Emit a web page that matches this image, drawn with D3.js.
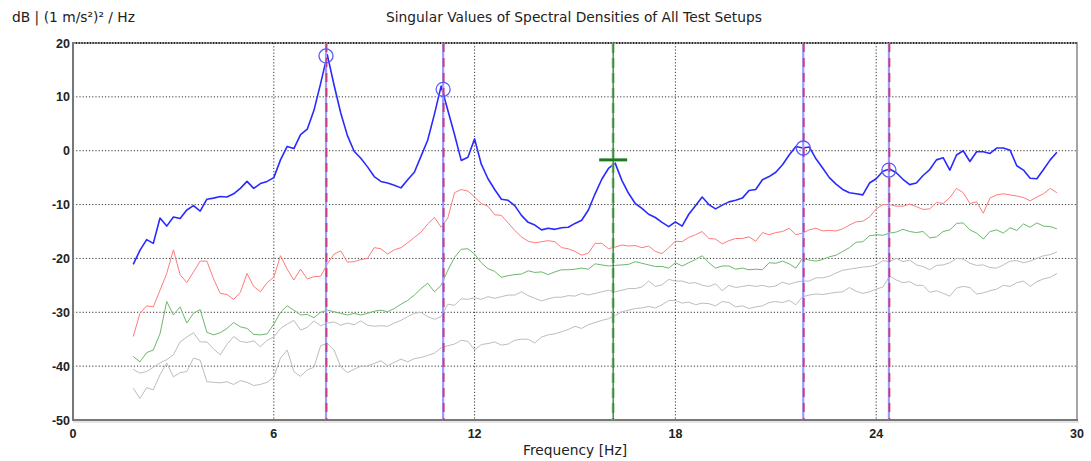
<!DOCTYPE html>
<html>
<head>
<meta charset="utf-8">
<script src="https://cdn.jsdelivr.net/npm/d3@7"></script>
<style>
  body { margin: 0; background: #fff; }
  text { font-family: "DejaVu Sans", Verdana, sans-serif; fill: #222; }
</style>
</head>
<body>
<script>
// frequency bins (Hz): 1.8 .. 29.4 in 0.2 Hz steps
const fStart = 1.8, fStep = 0.2;

// singular values, dB, one row per 2 Hz
const sv1 = [
  -21.1,-18.5,-16.5,-17.2,-12.5,-14.0,-12.3,-12.6,-11.0,-10.2,
  -11.2,-9.0,-8.8,-8.5,-8.6,-8.0,-7.0,-5.7,-7.0,-6.1,
  -5.7,-5.0,-1.7,0.8,0.4,3.0,4.0,7.5,12.5,17.8,
  12.2,7.0,2.8,-0.1,-1.4,-3.0,-4.8,-5.7,-6.0,-6.4,
  -6.9,-5.4,-4.0,-1.0,2.0,6.8,12.0,7.5,3.0,-1.8,
  -1.2,2.2,-2.5,-5.2,-7.2,-9.0,-9.2,-10.2,-12.0,-13.3,
  -13.8,-14.7,-14.4,-14.6,-14.3,-14.2,-13.5,-12.9,-11.0,-8.0,
  -5.3,-3.3,-2.3,-5.5,-7.9,-9.8,-10.7,-11.8,-12.4,-13.3,
  -14.1,-13.2,-14.0,-11.8,-10.2,-8.6,-10.0,-10.8,-10.1,-9.5,
  -9.2,-8.8,-7.4,-7.2,-5.4,-4.8,-4.0,-2.6,-0.8,0.8,
  0.5,0.7,-1.5,-3.2,-5.0,-6.2,-7.2,-7.8,-8.0,-8.2,
  -6.0,-5.2,-3.8,-3.4,-4.1,-5.3,-6.3,-6.0,-4.6,-3.5,
  -1.7,-1.3,-3.6,-0.8,0.0,-2.0,-0.2,-0.2,-0.5,0.5,
  0.5,0.1,-2.8,-3.6,-5.1,-5.2,-3.5,-1.7,-0.3
];
const sv2 = [
  -34.5,-30.2,-28.8,-29.0,-25.9,-22.8,-18.4,-23.0,-24.5,-22.5,
  -20.5,-20.5,-23.8,-26.5,-26.7,-27.6,-26.3,-22.8,-25.2,-26.2,
  -24.5,-23.5,-19.5,-22.0,-24.0,-22.0,-23.8,-23.4,-23.3,-21.0,
  -19.2,-18.6,-20.7,-20.6,-20.2,-20.0,-18.0,-18.2,-19.2,-18.4,
  -18.0,-17.1,-16.1,-15.1,-13.6,-12.4,-14.2,-12.5,-7.8,-7.2,
  -7.5,-8.6,-9.8,-10.3,-11.9,-12.0,-13.4,-14.8,-16.0,-16.8,
  -17.1,-16.9,-16.7,-16.9,-18.0,-18.2,-18.7,-19.4,-19.0,-17.2,
  -17.2,-18.2,-17.9,-17.5,-17.7,-17.6,-18.0,-17.7,-18.7,-19.1,
  -18.0,-16.8,-16.9,-16.1,-15.6,-15.0,-16.3,-16.4,-17.3,-16.7,
  -16.3,-16.3,-16.0,-16.8,-15.2,-15.6,-15.2,-15.0,-14.4,-15.6,
  -15.3,-14.7,-14.4,-14.9,-14.8,-14.9,-14.5,-13.8,-13.2,-13.1,
  -12.3,-10.8,-10.0,-10.0,-10.3,-10.3,-9.9,-10.4,-10.9,-10.8,
  -9.6,-9.8,-8.7,-7.0,-7.8,-9.8,-9.5,-11.6,-8.8,-8.2,
  -8.0,-8.2,-8.4,-8.7,-9.3,-8.6,-8.0,-7.0,-7.8
];
const sv3 = [
  -38.2,-39.2,-37.5,-37.0,-34.0,-28.0,-30.5,-29.0,-32.0,-30.2,
  -29.5,-33.7,-34.2,-33.8,-33.0,-31.9,-32.7,-33.0,-34.1,-34.2,
  -34.0,-32.2,-30.0,-28.8,-29.6,-30.5,-30.4,-31.0,-30.0,-29.6,
  -29.9,-30.2,-30.5,-30.2,-30.5,-30.2,-29.8,-29.6,-29.9,-29.3,
  -28.5,-27.8,-26.8,-25.6,-24.6,-26.2,-25.0,-22.2,-19.8,-18.3,
  -18.2,-19.2,-20.8,-21.9,-22.4,-23.5,-23.2,-23.0,-22.9,-22.3,
  -22.6,-22.5,-23.0,-22.5,-22.1,-22.1,-22.0,-21.8,-22.0,-21.0,
  -21.2,-21.4,-21.3,-21.2,-21.1,-20.6,-20.9,-21.2,-21.5,-21.5,
  -21.8,-20.8,-21.4,-20.8,-20.2,-19.5,-20.8,-21.8,-21.4,-21.4,
  -22.0,-21.8,-22.1,-22.0,-22.1,-20.8,-20.9,-20.5,-21.0,-21.8,
  -20.0,-20.3,-20.5,-20.2,-19.7,-19.4,-18.7,-18.0,-17.0,-16.9,
  -15.8,-15.6,-15.7,-15.3,-15.1,-14.6,-15.0,-15.2,-15.0,-16.2,
  -16.0,-15.0,-14.7,-13.5,-13.4,-14.7,-15.3,-16.4,-15.0,-14.7,
  -15.3,-14.3,-14.8,-13.6,-14.2,-13.4,-14.0,-14.1,-14.5
];
const sv4 = [
  -40.6,-41.3,-41.0,-40.2,-39.4,-38.8,-37.9,-35.5,-34.6,-33.8,
  -35.5,-35.5,-36.8,-37.9,-36.0,-34.5,-35.4,-35.6,-35.3,-36.4,
  -35.2,-34.6,-33.0,-32.2,-31.5,-33.3,-32.8,-31.6,-32.5,-32.0,
  -31.8,-32.4,-32.0,-32.3,-31.6,-32.4,-32.6,-32.5,-32.6,-32.0,
  -31.5,-30.8,-30.2,-30.0,-30.8,-31.3,-30.8,-28.5,-28.7,-27.5,
  -27.6,-27.3,-27.6,-27.1,-27.4,-27.1,-26.8,-26.8,-26.2,-26.9,
  -27.4,-27.9,-27.5,-27.2,-27.2,-26.9,-27.0,-26.5,-26.8,-26.5,
  -26.2,-25.9,-26.2,-25.9,-25.6,-25.6,-25.3,-24.2,-25.2,-24.9,
  -23.9,-24.2,-24.2,-24.6,-24.5,-25.0,-25.2,-24.7,-26.0,-25.0,
  -25.4,-25.2,-25.0,-25.2,-25.0,-25.3,-25.1,-24.4,-24.8,-24.4,
  -24.2,-24.2,-23.6,-23.6,-23.3,-22.7,-22.2,-22.0,-21.8,-21.6,
  -21.5,-21.2,-20.4,-20.6,-20.0,-20.6,-20.3,-21.2,-21.5,-22.1,
  -21.3,-21.2,-20.8,-20.0,-20.1,-20.9,-21.3,-21.2,-21.7,-21.8,
  -21.2,-20.5,-20.4,-20.8,-20.5,-20.0,-19.5,-19.3,-18.8
];
const sv5 = [
  -44.1,-46.0,-44.0,-44.4,-41.6,-39.4,-42.0,-41.2,-41.0,-38.5,
  -38.9,-42.9,-43.0,-43.1,-42.9,-43.4,-42.7,-43.0,-43.6,-43.4,
  -43.0,-42.0,-38.5,-37.0,-41.0,-41.9,-40.7,-40.2,-36.2,-35.8,
  -37.0,-40.1,-41.2,-40.6,-40.0,-40.0,-39.5,-39.0,-39.9,-39.3,
  -38.7,-39.2,-38.6,-38.4,-38.0,-37.6,-36.6,-36.2,-35.9,-35.2,
  -35.4,-37.0,-36.0,-35.8,-35.5,-36.1,-35.9,-35.2,-35.0,-35.0,
  -35.7,-34.6,-34.2,-34.0,-33.6,-33.2,-32.6,-33.0,-32.3,-31.9,
  -31.5,-31.2,-30.6,-29.9,-29.6,-29.3,-29.2,-28.9,-29.2,-28.6,
  -27.8,-27.8,-28.3,-28.1,-28.6,-28.3,-28.4,-28.8,-28.0,-28.2,
  -29.0,-28.8,-29.3,-29.0,-28.8,-28.2,-28.0,-28.2,-27.8,-28.6,
  -27.1,-26.8,-26.6,-26.7,-26.5,-26.3,-26.2,-25.4,-26.1,-26.5,
  -26.2,-25.7,-25.3,-23.3,-24.0,-24.5,-24.3,-25.0,-25.0,-26.3,
  -26.0,-26.5,-27.0,-25.5,-25.2,-25.4,-26.6,-26.4,-26.0,-25.7,
  -25.0,-25.2,-24.5,-24.2,-25.2,-24.3,-23.8,-23.5,-22.8
];

// picked modes (circles) and the selected one (cross)
const peakFreqs = [7.56, 11.06, 21.82, 24.38];
const peakDb = [17.6, 11.4, 0.5, -3.6];
const selFreq = [16.14];
const selDb = [-1.7];

const xTicks = [0, 6, 12, 18, 24, 30];
const yTicks = [20, 10, 0, -10, -20, -30, -40, -50];

const seriesColors = ["#2a2aff", "#ff7b7b", "#6cb86c", "#bdbdbd", "#bdbdbd"];
const seriesWidths = [1.6, 1, 1, 1, 1];

const width = 1091, height = 461;
const margin = { top: 43, right: 14, bottom: 41, left: 73 };

const svg = d3.select("body").append("svg")
  .attr("width", width)
  .attr("height", height);

const x = d3.scaleLinear().domain([0, 30]).range([margin.left, width - margin.right]);
const y = d3.scaleLinear().domain([-50, 20]).range([height - margin.bottom, margin.top]);

// frame
svg.append("rect")
  .attr("x", x(0)).attr("y", y(20))
  .attr("width", x(30) - x(0)).attr("height", y(-50) - y(20))
  .attr("fill", "#fff")
  .attr("stroke", "#888").attr("stroke-width", 1.5);

// grid
const grid = svg.append("g").attr("stroke", "#333").attr("stroke-dasharray", "1.2,2").attr("stroke-width", 1);
grid.selectAll(".gx").data(xTicks.filter(d => d > 0 && d < 30)).join("line")
  .attr("x1", d => x(d)).attr("x2", d => x(d))
  .attr("y1", y(20)).attr("y2", y(-50));
grid.selectAll(".gy").data(yTicks.filter(d => d > -50 && d < 20)).join("line")
  .attr("x1", x(0)).attr("x2", x(30))
  .attr("y1", d => y(d)).attr("y2", d => y(d));
svg.append("line")
  .attr("x1", x(0)).attr("x2", x(30)).attr("y1", y(20)).attr("y2", y(20))
  .attr("stroke", "#222").attr("stroke-width", 2).attr("stroke-dasharray", "1.2,1.6");

// left and bottom axis lines
svg.append("line")
  .attr("x1", x(0)).attr("x2", x(0)).attr("y1", y(20) - 1).attr("y2", y(-50) + 1)
  .attr("stroke", "#777").attr("stroke-width", 2);
svg.append("line")
  .attr("x1", x(0) - 1).attr("x2", x(30) + 1).attr("y1", y(-50)).attr("y2", y(-50))
  .attr("stroke", "#777").attr("stroke-width", 2);
svg.append("line")
  .attr("x1", x(0)).attr("x2", x(30) + 2).attr("y1", y(-50) + 2).attr("y2", y(-50) + 2)
  .attr("stroke", "#ddd").attr("stroke-width", 1.5);

// spectra
const all = [sv1, sv2, sv3, sv4, sv5];
const line = d3.line()
  .x((d, i) => x(fStart + i * fStep))
  .y(d => y(d));
svg.append("g").selectAll("path").data(all.slice().reverse()).join("path")
  .attr("d", d => line(d))
  .attr("fill", "none")
  .attr("stroke", (d, i) => seriesColors[all.length - 1 - i])
  .attr("stroke-width", (d, i) => seriesWidths[all.length - 1 - i])
  .attr("stroke-linejoin", "round");

// picked mode lines
const modes = svg.append("g");
modes.selectAll(".mb").data(peakFreqs).join("line")
  .attr("x1", d => x(d)).attr("x2", d => x(d))
  .attr("y1", y(20)).attr("y2", y(-50))
  .attr("stroke", "#9a9aff").attr("stroke-width", 2.2);
modes.selectAll(".mr").data(peakFreqs).join("line")
  .attr("x1", d => x(d) + 0.5).attr("x2", d => x(d) + 0.5)
  .attr("y1", y(20)).attr("y2", y(-50))
  .attr("stroke", "#d42050").attr("stroke-opacity", 0.75).attr("stroke-width", 2)
  .attr("stroke-dasharray", "9,6");

// selected line
modes.selectAll(".gs").data(selFreq).join("line")
  .attr("x1", d => x(d)).attr("x2", d => x(d))
  .attr("y1", y(20)).attr("y2", y(-50))
  .attr("stroke", "#9ccf9c").attr("stroke-width", 3)
  .attr("stroke-dasharray", "10,5");
modes.selectAll(".gd").data(selFreq).join("line")
  .attr("x1", d => x(d)).attr("x2", d => x(d))
  .attr("y1", y(20)).attr("y2", y(-50))
  .attr("stroke", "#1f6f1f").attr("stroke-width", 1.2);
modes.selectAll(".gc").data(selFreq).join("line")
  .attr("x1", d => x(d) - 14).attr("x2", d => x(d) + 14)
  .attr("y1", (d, i) => y(selDb[i])).attr("y2", (d, i) => y(selDb[i]))
  .attr("stroke", "#1d7a1d").attr("stroke-width", 3);

// peak circles
modes.selectAll("circle").data(peakFreqs).join("circle")
  .attr("cx", d => x(d)).attr("cy", (d, i) => y(peakDb[i]))
  .attr("r", 7)
  .attr("fill", "none").attr("stroke", "#5a5aff").attr("stroke-width", 1.3);

// tick labels
svg.append("g").selectAll("text").data(yTicks).join("text")
  .attr("x", x(0) - 3).attr("y", d => y(d) + 4.5)
  .attr("text-anchor", "end")
  .attr("font-size", 12.5).attr("font-weight", "bold")
  .attr("style", "font-family: 'Liberation Sans', Arial, sans-serif")
  .text(d => d);
svg.append("g").selectAll("text").data(xTicks).join("text")
  .attr("x", d => x(d)).attr("y", 438)
  .attr("text-anchor", "middle")
  .attr("font-size", 12.5).attr("font-weight", "bold")
  .attr("style", "font-family: 'Liberation Sans', Arial, sans-serif")
  .text(d => d);

// titles
svg.append("text")
  .attr("x", 12).attr("y", 22)
  .attr("font-size", 13.8)
  .text("dB | (1 m/s²)² / Hz");
svg.append("text")
  .attr("x", 574).attr("y", 22)
  .attr("text-anchor", "middle")
  .attr("font-size", 13.8)
  .text("Singular Values of Spectral Densities of All Test Setups");
svg.append("text")
  .attr("x", 575).attr("y", 455)
  .attr("text-anchor", "middle")
  .attr("font-size", 13.8)
  .text("Frequency [Hz]");
</script>
</body>
</html>
